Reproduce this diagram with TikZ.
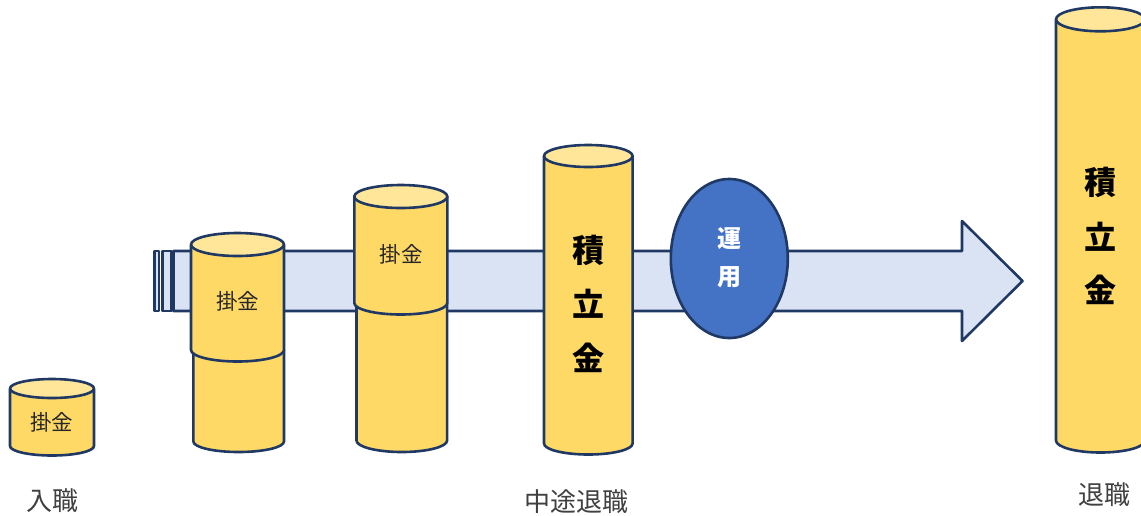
\documentclass[tikz,border=0pt]{standalone}
\usepackage{fontspec}
\newfontfamily\cjk{Noto Sans CJK JP}
\definecolor{edgeblue}{HTML}{1F3864}
\definecolor{cylfill}{HTML}{FFD966}
\definecolor{cyltop}{HTML}{FFE699}
\definecolor{arrowfill}{HTML}{DAE3F3}
\definecolor{ovalfill}{HTML}{4472C4}
\definecolor{labelgray}{HTML}{404040}
\tikzset{
  edge/.style={draw=edgeblue, line width=2.6pt, line join=round},
  kake/.style={font=\cjk\fontsize{21.5}{25}\selectfont, text=black!85},
  tsumi/.style={font=\cjk\bfseries\fontsize{32}{36}\selectfont, text=black},
  unyo/.style={font=\cjk\bfseries\fontsize{24}{28}\selectfont, text=white},
  lbl/.style={font=\cjk\fontsize{26}{30}\selectfont, text=labelgray},
}
% full cylinder: cx, top y, bottom y, rx, ry (y measured downward in px)
\newcommand\mycyl[5]{%
  \fill[cylfill] (#1-#4,-#2) -- (#1-#4,-#3) arc[start angle=180,end angle=360,x radius=#4,y radius=#5] -- (#1+#4,-#2) -- cycle;
  \draw[edge] (#1-#4,-#2) -- (#1-#4,-#3) arc[start angle=180,end angle=360,x radius=#4,y radius=#5] -- (#1+#4,-#2);
  \draw[edge, fill=cyltop] (#1,-#2) ellipse[x radius=#4,y radius=#5];
}
% lower cylinder without visible top
\newcommand\mylowcyl[5]{%
  \fill[cylfill] (#1-#4,-#2) -- (#1-#4,-#3) arc[start angle=180,end angle=360,x radius=#4,y radius=#5] -- (#1+#4,-#2) -- cycle;
  \draw[edge] (#1-#4,-#2) -- (#1-#4,-#3) arc[start angle=180,end angle=360,x radius=#4,y radius=#5] -- (#1+#4,-#2);
}
\begin{document}
\begin{tikzpicture}[x=1pt,y=1pt]
\useasboundingbox (0,0) rectangle (1141,-515);
% striped arrow
\draw[edge, fill=arrowfill] (154.7,-251) rectangle (159,-311);
\draw[edge, fill=arrowfill] (162.7,-251) rectangle (171.5,-311);
\draw[edge, fill=arrowfill] (173.5,-251) -- (962,-251) -- (962,-221) -- (1022.5,-281)
   -- (962,-341) -- (962,-311) -- (173.5,-311) -- cycle;
% entry cylinder
\mycyl{52}{388.5}{446}{42}{9.5}
% second stack
\mylowcyl{238.7}{350}{441.5}{45.3}{10.5}
\mycyl{237.5}{244.5}{350}{46.5}{11.5}
% third stack
\mylowcyl{401.8}{303}{440.5}{45.3}{11.5}
\mycyl{400.8}{196.5}{303}{46.5}{11.5}
% mid-career cylinder
\mycyl{588.3}{156}{443.5}{44.3}{11}
% investment oval
\draw[edge, fill=ovalfill] (729.3,-258.5) ellipse[x radius=58.5,y radius=79.5];
% retirement cylinder
\mycyl{1100.5}{19.3}{440.5}{44.5}{12}
% texts
\node[kake] (k1) at (52,-422) {掛金};
\node[kake] (k2) at (237.5,-301.5) {掛金};
\node[kake] (k3) at (401,-254.5) {掛金};
\node[tsumi] (t1a) at (588.5,-250) {積};
\node[tsumi] (t1b) at (588.5,-304) {立};
\node[tsumi] (t1c) at (588.5,-357.5) {金};
\node[unyo] (u1) at (729.3,-238.5) {運};
\node[unyo] (u2) at (729.3,-277.5) {用};
\node[tsumi] (t2a) at (1100.5,-182.5) {積};
\node[tsumi] (t2b) at (1100.5,-236.5) {立};
\node[tsumi] (t2c) at (1100.5,-290) {金};
\node[lbl] (l1) at (52.5,-500.5) {入職};
\node[lbl] (l2) at (576,-501.5) {中途退職};
\node[lbl] (l3) at (1104,-495) {退職};
\end{tikzpicture}
\end{document}
